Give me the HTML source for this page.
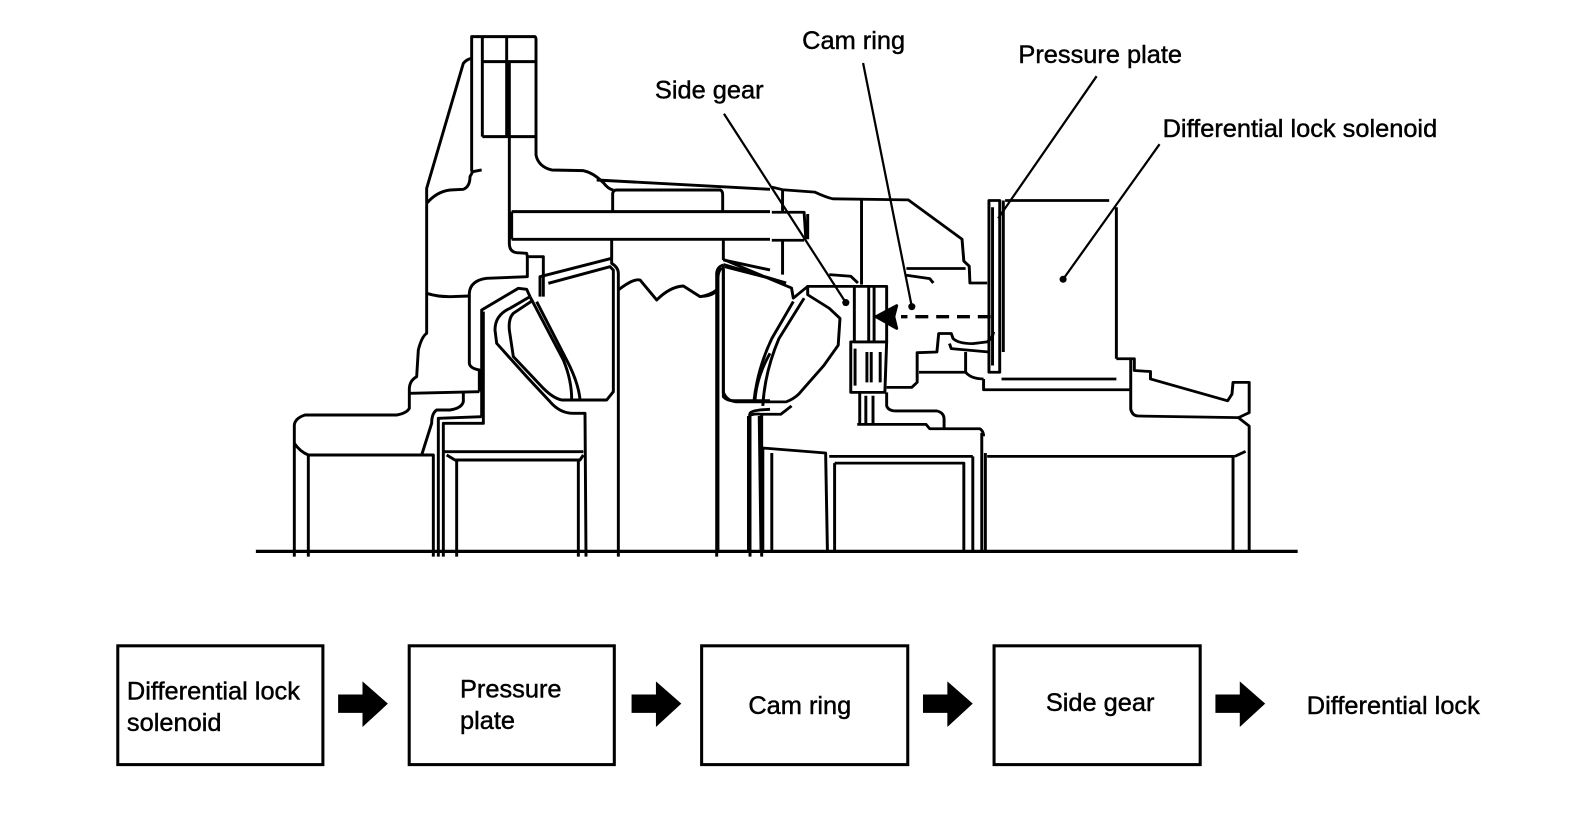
<!DOCTYPE html>
<html><head><meta charset="utf-8"><style>
html,body{margin:0;padding:0;background:#fff;}
svg{display:block;}
text{font-family:"Liberation Sans",Arial,sans-serif;font-size:25px;fill:#000;stroke:#000;stroke-width:0.45px;}
</style></head><body>
<svg width="1584" height="822" viewBox="0 0 1560 809.5" xmlns="http://www.w3.org/2000/svg">
<g fill="none" stroke="#000" stroke-width="2.8" stroke-linejoin="round">
<g transform="translate(246.2,29.5) scale(0.3283)">
<g stroke-width="8.8">
<path d="M530,520 L530,475 L640,100 Q650,88 665,85"/>
<path d="M530,520 Q560,485 600,480 L640,478 Q660,470 660,440 L668,425 L695,420"/>
<path d="M665,425 L665,20 L855,20 Q858,22 858,30 L858,375 Q865,410 905,420 L1000,422 Q1030,428 1060,458 Q1075,478 1090,480"/>
<path d="M1040,450 L1560,478"/>
<path d="M697,95 L857,95 M697,320 L857,320 M697,20 L697,320 M770,20 L770,320 M778,95 L778,320"/>
<path d="M778,320 L778,640 Q778,665 800,668 L830,670 L832,680 L832,740 L710,745 Q660,752 658,790 L658,1000 Q660,1015 688,1020 L688,1085"/>
<path d="M530,520 L530,790 Q560,800 600,800 L658,798"/>
<path d="M530,790 L530,910 Q515,920 505,960 L500,1040 Q480,1050 478,1075 L478,1135 Q470,1150 440,1155 L165,1155 Q135,1165 133,1185 L133,1580"/>
<path d="M133,1240 Q150,1265 175,1275 L550,1275 L550,1580 M175,1275 L175,1580"/>
<path d="M480,1090 L688,1085"/>
<path d="M640,1090 L640,1115 Q635,1135 600,1140 L560,1140 Q545,1150 545,1180 L515,1275"/>
<path d="M695,1160 L695,840 L805,775 L830,778 L840,800"/>
<path d="M565,1580 L565,1165 L695,1160 M580,1580 L580,1180 L700,1180 L700,845"/>
<path d="M840,800 L780,835 Q735,855 735,900 L740,940 L830,1040 L900,1115 Q930,1150 970,1150 L1005,1150 L1008,1580"/>
<path d="M850,810 L790,850 Q775,865 778,900 L790,980 L880,1075 Q910,1105 935,1110 L1070,1110 L1090,1085 L1090,720 L1080,710 L895,760"/>
<path d="M870,800 L870,740 L1085,685 M880,800 L880,680 L835,680"/>
<path d="M840,800 L940,990 Q965,1050 965,1108 M860,815 L955,1000 Q985,1060 990,1108"/>
<path d="M580,1265 L1000,1265 M590,1275 L615,1290 L990,1290 L1000,1275 M620,1290 L620,1580 M985,1290 L985,1580"/>
<path d="M785,545 L1560,545 M785,628 L1560,628 M785,545 L785,628"/>
<path d="M1088,545 L1088,490 Q1090,480 1100,480 L1410,480 Q1418,482 1418,495 L1418,545"/>
<path d="M1085,630 L1085,700 Q1105,712 1105,730 L1105,1580 M1420,630 L1420,690 M1400,1580 L1400,730 Q1402,710 1420,705"/>
<path d="M1105,780 Q1150,745 1170,750 L1220,810 Q1260,770 1300,768 L1350,800 Q1380,795 1400,780"/>
<path d="M1420,705 L1420,1100 Q1430,1112 1450,1112 L1560,1112 M1560,970 Q1520,1040 1515,1110 M1500,1580 L1500,1150 Q1505,1140 1560,1138 M1535,1580 L1535,1150"/>
<path d="M1420,690 L1560,720 M1425,710 L1560,745"/>
</g></g>
<g transform="translate(689.4,147.7) scale(0.3535,0.3316)" stroke-width="8.2">
<path d="M200,110 L230,118 L320,125 Q350,140 370,145 L580,148 L730,265 L735,330 L750,345 L752,395 L800,395"/>
<path d="M200,185 L290,185 L295,265 M200,268 L290,268 M300,190 L300,265"/>
<path d="M230,118 L230,185 M230,268 L230,370"/>
<path d="M450,150 L450,400"/>
<path d="M575,352 L740,352 M575,372 L640,382 L650,395"/>
<path d="M805,595 L805,150 L835,150 L835,660 L805,660 Z M815,170 L815,640"/>
<path d="M850,150 L1140,150 M845,600 L845,150 M1160,170 L1160,620 M840,680 L1160,680"/>
<path d="M1160,620 L1210,620 L1210,655 L1255,658 L1255,680 L1470,745 L1482,725 L1485,690 L1530,690 L1530,780 L1500,795 L1530,820 L1530,1192"/>
<path d="M1200,620 L1200,770 Q1205,790 1220,790 L1500,795"/>
<path d="M790,680 L790,712 L1200,712"/>
<path d="M800,910 L1490,910 M1485,910 L1485,1192 M1490,910 L1520,895"/>
<path d="M795,900 L795,1192 M785,840 L785,1192"/>
<path d="M430,405 L430,570 L520,570 L520,405 Z M470,405 L470,570 M485,405 L485,570"/>
<path d="M420,570 L420,720 L515,720 L520,570 Z M432,590 L432,700 M465,600 L465,690 M477,600 L477,690 M502,600 L502,690"/>
<path d="M445,720 L445,815 M462,730 L462,815 M482,730 L482,815 M438,815 L630,815 L640,828 L780,828 Q790,835 790,850"/>
<path d="M520,720 L520,760 Q525,775 545,775 L660,775 Q680,780 680,800 L680,825"/>
<path d="M520,705 L590,705 L605,690 L605,602 L660,600 L665,545 L700,545 L705,560 Q720,575 760,575 L800,570 Q815,560 818,540"/>
<path d="M610,660 L740,660 Q755,680 790,680 M695,575 L700,590 L805,600 M740,600 L740,660"/>
<path d="M60,350 Q50,360 50,380 L50,1192"/>
<path d="M65,355 L65,720 Q75,745 100,748 L240,748 Q260,740 275,725 L345,640 L385,580 L390,500 L360,470 L300,430 L300,405 L430,405"/>
<path d="M65,325 L255,410 L260,440 L300,405 M65,340 L240,395 M360,370 L420,375 L440,395"/>
<path d="M150,748 Q160,650 200,560 L260,450 M175,760 Q180,660 220,560 L290,440"/>
<path d="M135,790 L135,1192 M165,790 L170,1192 M135,790 Q150,782 170,785 L225,785 L255,760"/>
<path d="M175,885 L350,900 L355,1192 M175,885 L175,1192 M200,900 L200,1192 M360,910 L760,910 M375,930 L735,930 L735,1192 M375,930 L375,1192 M760,910 L760,1192"/>
<path d="M0,435 Q30,435 45,420"/>
<path d="M810,495 L560,495" stroke-dasharray="36,22" stroke-width="10"/>
<path d="M490,495 L548,462 L540,495 L548,530 Z" fill="#000"/>
</g>
<path d="M252,543 L1278,543" stroke-width="3.2"/>
<path d="M713,112 L833,298 M850,62 L898,302 M1080,75 L983,215 M1142,142 L1047,275" stroke-width="2.2"/>
</g>
<g fill="#000">
<circle cx="833" cy="298" r="3.5"/><circle cx="898" cy="302" r="3.5"/><circle cx="1047" cy="275" r="3.5"/>
</g>
<text x="790" y="48">Cam ring</text>
<text x="1003" y="62">Pressure plate</text>
<text x="645" y="97">Side gear</text>
<text x="1145" y="135">Differential lock solenoid</text>
<g fill="none" stroke="#000" stroke-width="3">
<rect x="116" y="636" width="202" height="117"/>
<rect x="403" y="636" width="202" height="117"/>
<rect x="691" y="636" width="203" height="117"/>
<rect x="979" y="636" width="203" height="117"/>
</g>
<g fill="#000">
<polygon points="333,684 357,684 357,671 382,693 357,716 357,702 333,702"/>
<polygon points="622,684 646,684 646,671 671,693 646,716 646,702 622,702"/>
<polygon points="909,684 933,684 933,671 958,693 933,716 933,702 909,702"/>
<polygon points="1197,684 1221,684 1221,671 1246,693 1221,716 1221,702 1197,702"/>
</g>
<text x="125" y="689">Differential lock</text>
<text x="125" y="720">solenoid</text>
<text x="453" y="687">Pressure</text>
<text x="453" y="718">plate</text>
<text x="737" y="703">Cam ring</text>
<text x="1030" y="700">Side gear</text>
<text x="1287" y="703">Differential lock</text>
</svg>
</body></html>
